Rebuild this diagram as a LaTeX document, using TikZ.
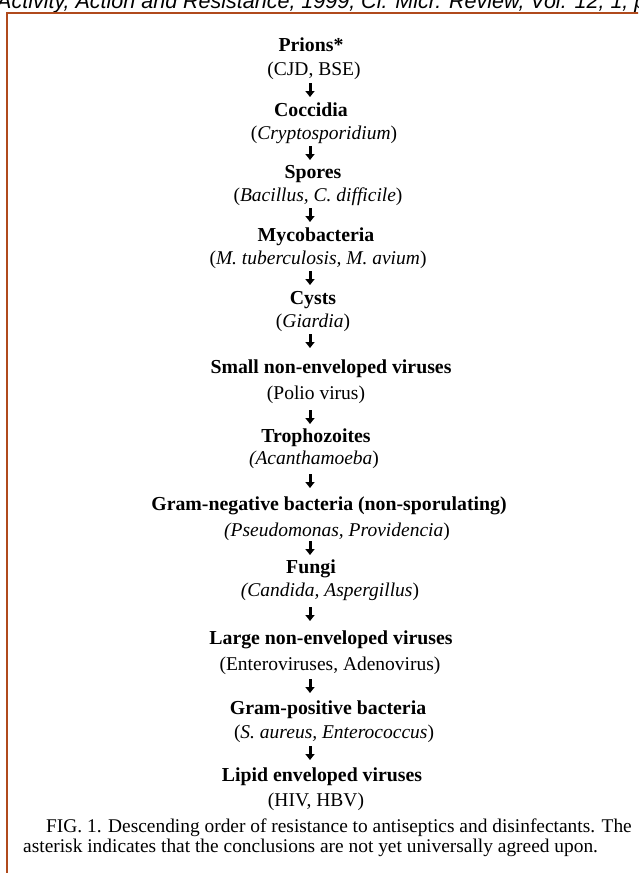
\documentclass[tikz,border=0pt]{standalone}
\usepackage{fontspec}
\setmainfont{Liberation Serif}
\newfontfamily\hdrfont{Liberation Sans}
\usetikzlibrary{arrows.meta}
\definecolor{brdcol}{HTML}{B04A1C}
\begin{document}
\begin{tikzpicture}[x=1pt,y=1pt,
  hd/.style={font=\fontsize{19.8}{23}\selectfont\bfseries, inner sep=0pt, anchor=base},
  sb/.style={font=\fontsize{19.5}{23}\selectfont, inner sep=0pt, anchor=base},
  arr/.style={line width=3pt, -{Triangle[width=9pt,length=6pt]}},
  captext/.style={font=\fontsize{19.4}{20}\selectfont, inner sep=0pt, anchor=base west},
  frame/.style={draw=brdcol, line width=2pt}]
\useasboundingbox (0,0) rectangle (638,-873);
\clip (0,0) rectangle (638,-873);
\node[font=\hdrfont\itshape\fontsize{21.5}{24}\selectfont, anchor=base west, inner sep=0pt] (hdr) at (-3,-8) {Activity, Action and Resistance, 1999, Cl. Micr. Review, Vol. 12, 1, p};
\draw[frame] (642,-13) -- (7,-13) -- (7,-877);

\node[hd] (h1) at (311,-51) {Prions*};
\node[sb] (s1) at (314,-75) {(CJD, BSE)};
\node[hd] (h2) at (311,-116) {Coccidia};
\node[sb] (s2) at (324,-139) {(\textit{Cryptosporidium})};
\node[hd] (h3) at (313,-178) {Spores};
\node[sb] (s3) at (318,-201) {(\textit{Bacillus, C. difficile})};
\node[hd] (h4) at (316,-241) {Mycobacteria};
\node[sb] (s4) at (318,-264) {(\textit{M. tuberculosis, M. avium})};
\node[hd] (h5) at (313,-304) {Cysts};
\node[sb] (s5) at (313,-327) {(\textit{Giardia})};
\node[hd] (h6) at (331,-373) {Small non-enveloped viruses};
\node[sb] (s6) at (316,-399) {(Polio virus)};
\node[hd] (h7) at (316,-442) {Trophozoites};
\node[sb] (s7) at (314,-464) {\textit{(Acanthamoeba})};
\node[hd] (h8) at (329,-510) {Gram-negative bacteria (non-sporulating)};
\node[sb] (s8) at (337,-536) {\textit{(Pseudomonas, Providencia})};
\node[hd] (h9) at (311,-573) {Fungi};
\node[sb] (s9) at (330,-596) {\textit{(Candida, Aspergillus})};
\node[hd] (h10) at (331,-644) {Large non-enveloped viruses};
\node[sb] (s10) at (330,-670) {(Enteroviruses, Adenovirus)};
\node[hd] (h11) at (328,-714) {Gram-positive bacteria};
\node[sb] (s11) at (334,-738) {(\textit{S. aureus, Enterococcus})};
\node[hd] (h12) at (322,-781) {Lipid enveloped viruses};
\node[sb] (s12) at (316,-806) {(HIV, HBV)};

\foreach \i/\y in {1/90,2/153,3/215,4/278,5/341,6/417,7/481,8/548,9/614,10/686,11/753}{
  \coordinate (a\i t) at (310,-\y+7);
  \coordinate (a\i b) at (310,-\y-7);
  \draw[arr] (a\i t) -- (a\i b);
}

\node[captext] (c1) at (46,-832) {FIG. 1. Descending order of resistance to antiseptics and disinfectants. The};
\node[captext] (c2) at (23,-852) {asterisk indicates that the conclusions are not yet universally agreed upon.};
\end{tikzpicture}
\end{document}
